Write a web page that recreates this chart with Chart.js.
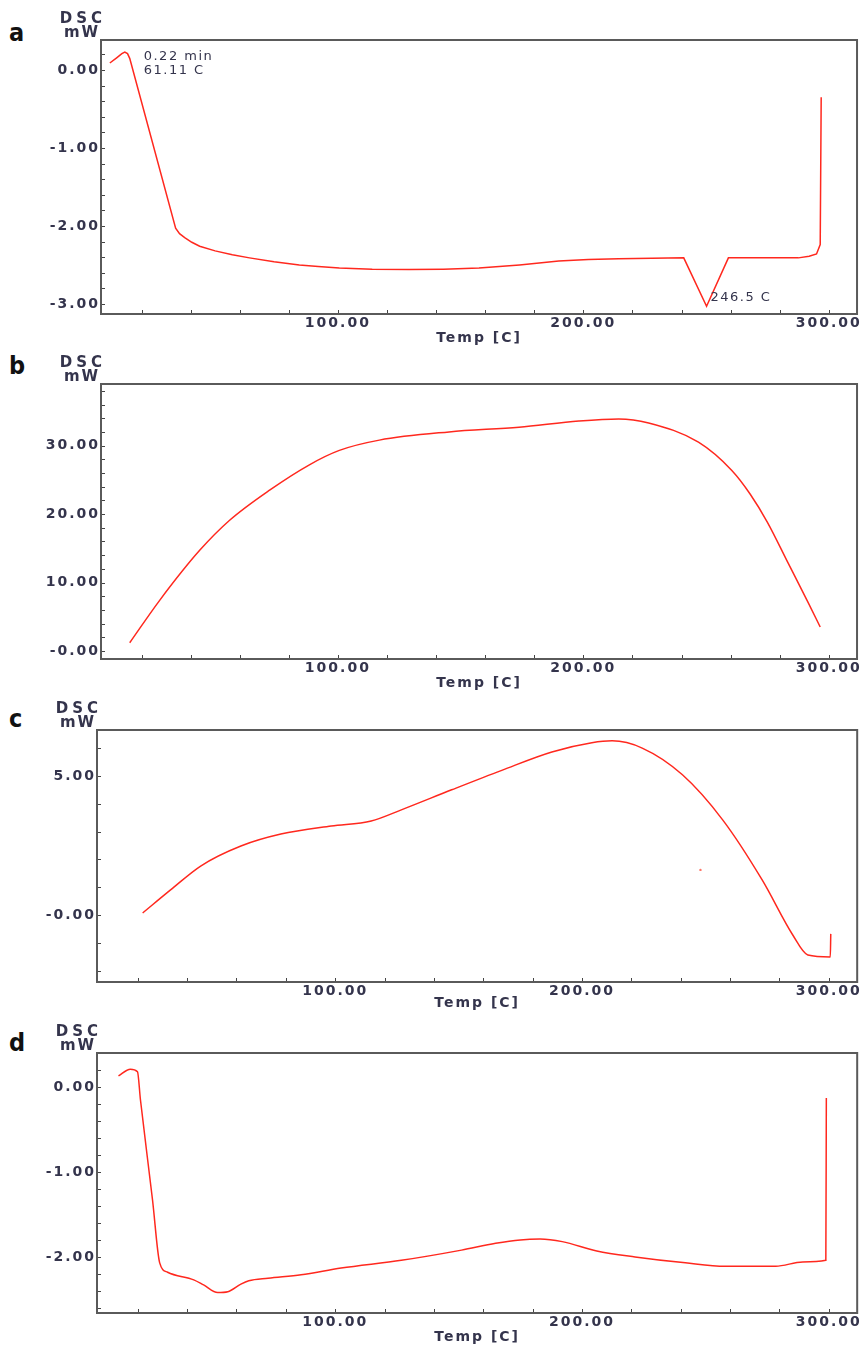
<!DOCTYPE html>
<html>
<head>
<meta charset="utf-8">
<title>DSC curves</title>
<script src="https://cdn.jsdelivr.net/npm/chart.js@4.4.0/dist/chart.umd.min.js"></script>
<style>
  body { margin: 0; background: #fff; width: 863px; height: 1349px; position: relative; overflow: hidden; }
  .panel { position: absolute; left: 0; width: 863px; }
  .letter { position: absolute; left: 9px; font-family: "Liberation Sans Narrow", "DejaVu Sans", sans-serif; font-stretch: condensed; font-weight: bold; font-size: 25px; line-height: 25px; color: #111; }
</style>
</head>
<body>
<div class="letter" style="top:20px">a</div>
<div class="letter" style="top:353px">b</div>
<div class="letter" style="top:706px">c</div>
<div class="letter" style="top:1030px">d</div>

<div class="panel" style="top:0px;height:350px"><canvas id="chartA"></canvas></div>
<div class="panel" style="top:340px;height:355px"><canvas id="chartB"></canvas></div>
<div class="panel" style="top:690px;height:325px"><canvas id="chartC"></canvas></div>
<div class="panel" style="top:1010px;height:339px"><canvas id="chartD"></canvas></div>

<script>
// values (temperature in C, heat flow in mW)
var tempA = [7.1, 10, 12, 13.2, 14.3, 15.2, 33.9, 35.5, 37.6, 40.5, 43.7, 50, 57, 64, 74, 84.3, 92, 100.6, 114, 129, 143, 157.5, 174, 190, 202, 214.4, 228, 240.9, 250.2, 259.1, 287.6, 292, 295, 296.5, 296.9];
var dscA  = [0.09, 0.16, 0.21, 0.23, 0.21, 0.15, -2.03, -2.10, -2.15, -2.21, -2.26, -2.32, -2.37, -2.41, -2.46, -2.5, -2.52, -2.54, -2.555, -2.56, -2.555, -2.54, -2.5, -2.45, -2.43, -2.42, -2.415, -2.41, -3.03, -2.41, -2.41, -2.39, -2.36, -2.24, -0.35];

var tempB = [15.2, 27.4, 43.7, 55.9, 72.2, 88.4, 100.6, 116.9, 145.3, 173.8, 198.2, 214.4, 226.6, 246.9, 260.4, 268, 275, 283.5, 291.7, 296.5];
var dscB  = [1.2, 7.4, 14.7, 19.1, 23.5, 27.2, 29.3, 30.8, 32, 32.7, 33.6, 33.9, 33.3, 30.5, 26.4, 22.9, 18.8, 12.8, 7.0, 3.5];

var tempC = [22, 33.3, 45.5, 61.8, 78, 98.4, 114.6, 126.8, 147.2, 167.5, 187.8, 204, 212.2, 224.4, 240.7, 257, 273, 285.4, 291.5, 300.6, 300.8];
var dscC  = [0.07, 0.9, 1.76, 2.48, 2.91, 3.2, 3.38, 3.78, 4.5, 5.2, 5.86, 6.19, 6.26, 6.0, 5.04, 3.42, 1.26, -0.72, -1.44, -1.51, -0.68];
var strayTempC = [248];
var strayDscC  = [1.62];

var tempD = [12.2, 17, 19.9, 21.1, 26, 28.9, 32.1, 42.7, 46.7, 52.4, 56.5, 61.8, 65, 72.8, 86.2, 102.4, 126.8, 151.2, 165, 175, 183, 192, 206, 221.5, 241.9, 258, 278.5, 289.4, 298.8, 299];
var dscD  = [0.13, 0.21, 0.18, -0.15, -1.33, -2.07, -2.18, -2.27, -2.33, -2.42, -2.41, -2.32, -2.28, -2.25, -2.21, -2.13, -2.04, -1.92, -1.84, -1.80, -1.79, -1.82, -1.93, -2.0, -2.07, -2.11, -2.11, -2.06, -2.04, -0.13];

// labelled ticks
var tempTicks = [100, 200, 300];
var tempTickLabels = ['100.00', '200.00', '300.00'];
var yTicksA = [0, -1, -2, -3];
var yLabelsA = ['0.00', '-1.00', '-2.00', '-3.00'];
var yTicksB = [0, 10, 20, 30];
var yLabelsB = ['-0.00', '10.00', '20.00', '30.00'];
var yTicksC = [0, 5];
var yLabelsC = ['-0.00', '5.00'];
var yTicksD = [0, -1, -2];
var yLabelsD = ['0.00', '-1.00', '-2.00'];

// peak notes on trace a
var notesA = ['0.22 min', '61.11 C', '246.5 C'];

var textColor = '#34344c';
var lineColor = 'rgb(255, 40, 30)';
var tickFont = { family: 'DejaVu Sans', size: 14, weight: 'bold' };

function toPoints(xs, ys) {
  return xs.map(function (x, i) { return { x: x, y: ys[i] }; });
}

function labelFor(values, labels) {
  return function (v) {
    for (var i = 0; i < values.length; i++) {
      if (Math.abs(values[i] - v) < 1e-6) return labels[i];
    }
    return '';
  };
}

// minor ticks every `step`, only the listed ones carry a label
function stepTicks(step) {
  return function (scale) {
    var out = [];
    var start = Math.ceil(scale.min / step - 1e-9);
    for (var k = start; k * step <= scale.max + 1e-9; k++) {
      out.push({ value: Math.round(k * step * 1e6) / 1e6 });
    }
    scale.ticks = out;
  };
}

var dscFrame = {
  id: 'dscFrame',
  beforeLayout: function (chart) { chart.ctx.letterSpacing = '2px'; },
  beforeDraw: function (chart) { chart.ctx.letterSpacing = '2px'; },
  afterDraw: function (chart, args, opts) {
    var ctx = chart.ctx, area = chart.chartArea;
    var xs = chart.scales.x, ys = chart.scales.y;
    ctx.save();
    // DSC / mW caption above the y axis
    ctx.fillStyle = textColor;
    ctx.font = 'bold 15px "DejaVu Sans"';
    ctx.letterSpacing = '4px';
    ctx.textAlign = 'center';
    ctx.textBaseline = 'middle';
    ctx.fillText('DSC', area.left - 18, area.top - 21);
    ctx.letterSpacing = '2px';
    ctx.fillText('mW', area.left - 19, area.top - 7);

    // notes placed in data units
    (opts.notes || []).forEach(function (n) {
      ctx.font = '13px "DejaVu Sans"';
      ctx.letterSpacing = '1.5px';
      ctx.textAlign = 'left';
      ctx.fillText(n.text, xs.getPixelForValue(n.x), ys.getPixelForValue(n.y));
    });

    // inward tick marks
    ctx.strokeStyle = '#444';
    ctx.lineWidth = 1;
    ctx.beginPath();
    xs.ticks.forEach(function (t) {
      var px = Math.round(xs.getPixelForValue(t.value)) + 0.5;
      ctx.moveTo(px, area.bottom);
      ctx.lineTo(px, area.bottom - 4);
    });
    ys.ticks.forEach(function (t) {
      var py = Math.round(ys.getPixelForValue(t.value)) + 0.5;
      ctx.moveTo(area.left, py);
      ctx.lineTo(area.left + 4, py);
    });
    ctx.stroke();

    // plot frame
    ctx.strokeStyle = '#5a5a5a';
    ctx.lineWidth = 2;
    ctx.strokeRect(area.left, area.top, area.right - area.left, area.bottom - area.top);
    ctx.restore();
  }
};

function makePanel(id, cfg) {
  var datasets = [{
    data: toPoints(cfg.temp, cfg.dsc),
    borderColor: lineColor,
    borderWidth: 1.5,
    pointRadius: 0,
    tension: 0,
    cubicInterpolationMode: cfg.straight ? 'default' : 'monotone',
    fill: false
  }];
  if (cfg.extra) datasets.push(cfg.extra);

  return new Chart(document.getElementById(id), {
    type: 'line',
    data: { datasets: datasets },
    plugins: [dscFrame],
    options: {
      animation: false,
      responsive: true,
      maintainAspectRatio: false,
      layout: { padding: { top: cfg.top, left: 0, right: 5, bottom: 0 } },
      plugins: {
        legend: { display: false },
        tooltip: { enabled: false },
        dscFrame: { notes: cfg.notes || [] }
      },
      scales: {
        x: {
          type: 'linear',
          min: 3.5,
          max: 311.5,
          grid: { display: false, drawTicks: false },
          border: { display: false },
          afterBuildTicks: stepTicks(20),
          afterFit: function (s) { s.height = cfg.xHeight; },
          ticks: {
            autoSkip: false,
            maxRotation: 0,
            padding: 1,
            color: textColor,
            font: tickFont,
            callback: labelFor(tempTicks, tempTickLabels)
          },
          title: {
            display: true,
            text: 'Temp [C]',
            color: textColor,
            font: tickFont,
            padding: { top: 0, bottom: 3 }
          }
        },
        y: {
          min: cfg.yMin,
          max: cfg.yMax,
          grid: { display: false, drawTicks: false },
          border: { display: false },
          afterBuildTicks: stepTicks(cfg.yStep),
          afterFit: function (s) { s.width = cfg.left; },
          ticks: {
            autoSkip: false,
            padding: 1,
            color: textColor,
            font: tickFont,
            callback: labelFor(cfg.yTicks, cfg.yLabels)
          }
        }
      }
    }
  });
}

makePanel('chartA', {
  temp: tempA, dsc: dscA, top: 40, xHeight: 36, left: 101, straight: true,
  yMin: -3.13, yMax: 0.385, yStep: 0.2, yTicks: yTicksA, yLabels: yLabelsA,
  notes: [
    { text: notesA[0], x: 20.9, y: 0.167 },
    { text: notesA[1], x: 20.9, y: -0.013 },
    { text: notesA[2], x: 251.8, y: -2.92 }
  ]
});

makePanel('chartB', {
  temp: tempB, dsc: dscB, top: 44, xHeight: 36, left: 101,
  yMin: -1.17, yMax: 39.0, yStep: 2, yTicks: yTicksB, yLabels: yLabelsB
});

makePanel('chartC', {
  temp: tempC, dsc: dscC, top: 40, xHeight: 33, left: 97,
  yMin: -2.41, yMax: 6.65, yStep: 1, yTicks: yTicksC, yLabels: yLabelsC,
  extra: {
    data: toPoints(strayTempC, strayDscC),
    showLine: false,
    pointRadius: 1.2,
    pointBorderWidth: 0,
    pointBackgroundColor: 'rgba(255, 60, 40, 0.7)'
  }
});

makePanel('chartD', {
  temp: tempD, dsc: dscD, top: 43, xHeight: 36, left: 97,
  yMin: -2.66, yMax: 0.4, yStep: 0.2, yTicks: yTicksD, yLabels: yLabelsD
});
</script>
</body>
</html>
